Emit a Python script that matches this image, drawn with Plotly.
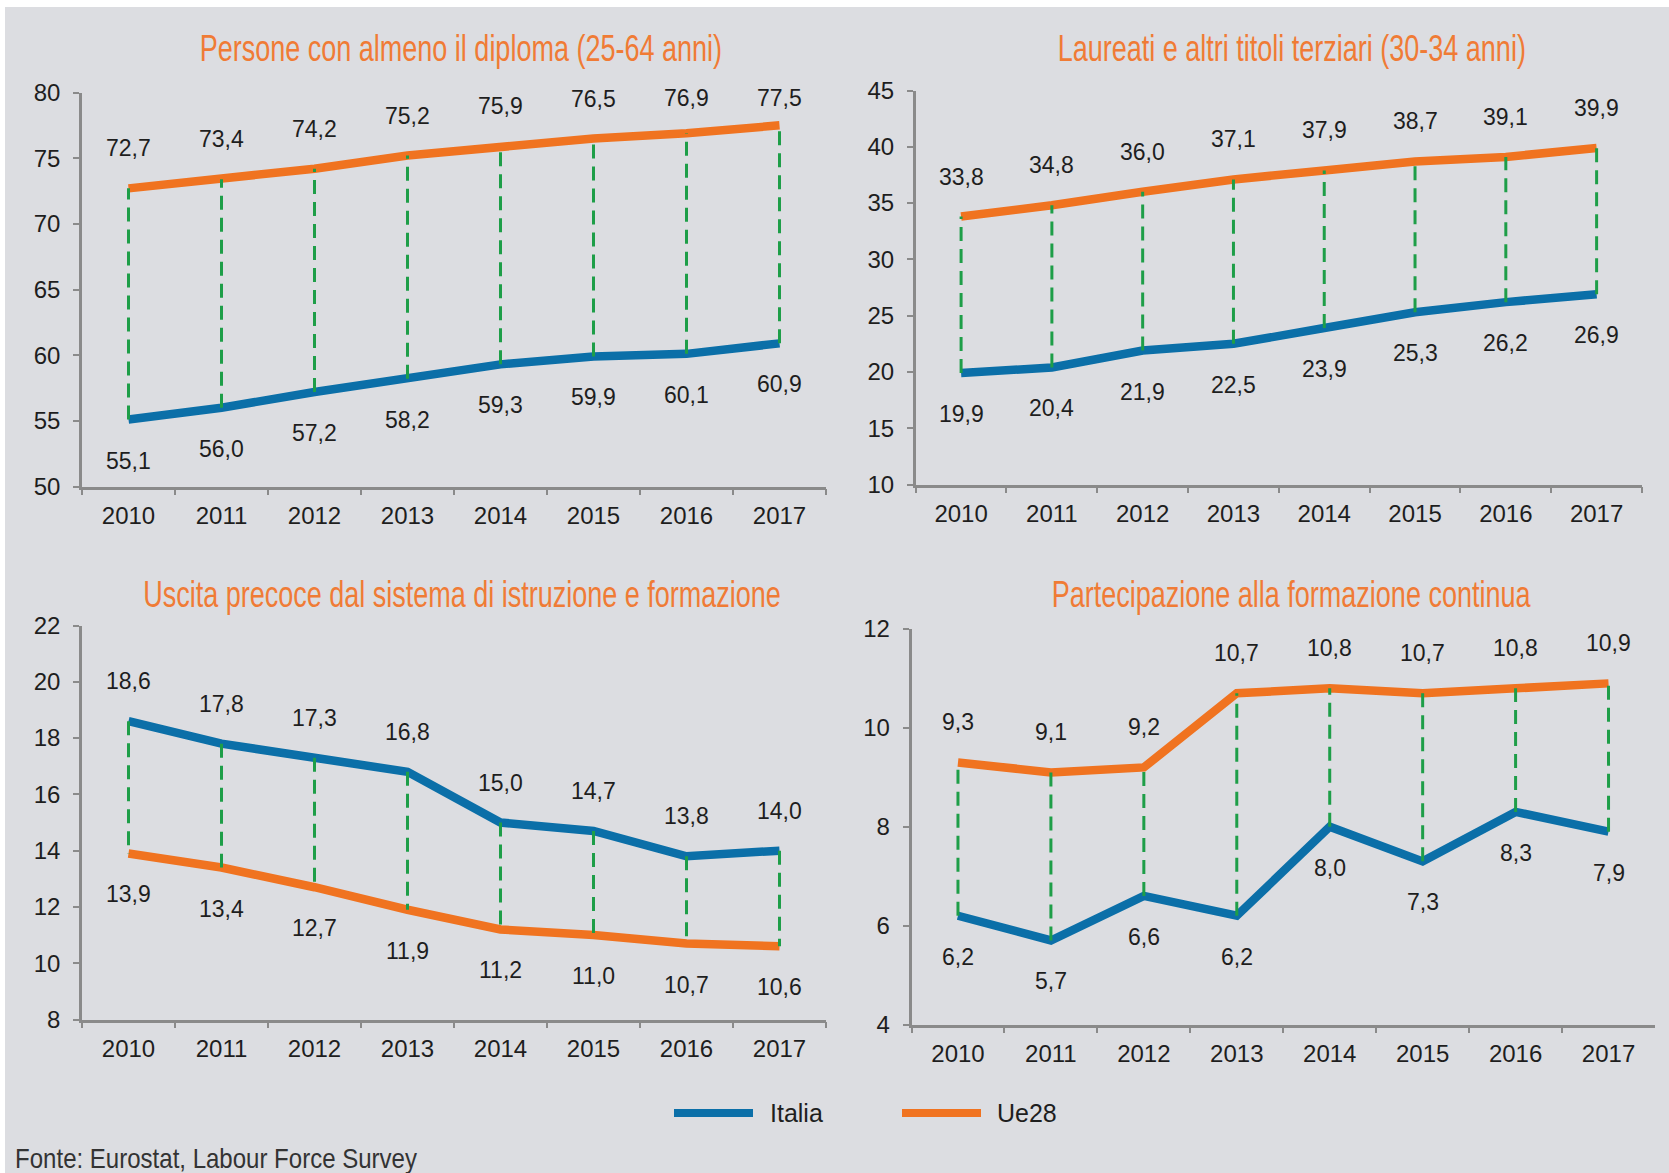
import json
import plotly.graph_objects as go

# ---------------- data ----------------
years = ["2010", "2011", "2012", "2013", "2014", "2015", "2016", "2017"]

p1_italia = [55.1, 56.0, 57.2, 58.2, 59.3, 59.9, 60.1, 60.9]
p1_ue28 = [72.7, 73.4, 74.2, 75.2, 75.9, 76.5, 76.9, 77.5]

p2_italia = [19.9, 20.4, 21.9, 22.5, 23.9, 25.3, 26.2, 26.9]
p2_ue28 = [33.8, 34.8, 36.0, 37.1, 37.9, 38.7, 39.1, 39.9]

p3_italia = [18.6, 17.8, 17.3, 16.8, 15.0, 14.7, 13.8, 14.0]
p3_ue28 = [13.9, 13.4, 12.7, 11.9, 11.2, 11.0, 10.7, 10.6]

p4_italia = [6.2, 5.7, 6.6, 6.2, 8.0, 7.3, 8.3, 7.9]
p4_ue28 = [9.3, 9.1, 9.2, 10.7, 10.8, 10.7, 10.8, 10.9]

titles = [
    "Persone con almeno il diploma (25-64 anni)",
    "Laureati e altri titoli terziari (30-34 anni)",
    "Uscita precoce dal sistema di istruzione e formazione",
    "Partecipazione alla formazione continua",
]
y_ranges = [(50, 80, 5), (10, 45, 5), (8, 22, 2), (4, 12, 2)]
series_names = ["Italia", "Ue28"]
source_text = "Fonte: Eurostat, Labour Force Survey"

# ---------------- style ----------------
W, H = 1669, 1173
BG = "#dcdde1"
BLUE = "#0b6fa8"
ORANGE = "#f07320"
GREEN = "#1e9e48"
TITLE_C = "#f07b35"
AXIS_C = "#8a8a8a"
TXT = "#1e1e1e"
FONT = "Liberation Sans, Arial, sans-serif"

# panel pixel boxes: (x0, x1, ytop, ybottom)
boxes = [
    (82, 826, 92.5, 486.5),
    (915.7, 1642, 90.5, 484.5),
    (82, 826, 625.5, 1019.5),
    (911.5, 1655, 629, 1024.5),
]
title_pos = [(461, 48), (1292, 48), (462, 594), (1291, 594)]

panels = [
    (p1_italia, p1_ue28),
    (p2_italia, p2_ue28),
    (p3_italia, p3_ue28),
    (p4_italia, p4_ue28),
]


def fx(px):
    return px / W


def fy(py):
    return 1 - py / H


fig = go.Figure()
annotations = []

for i, ((ita, ue), (ymin, ymax, dt), box) in enumerate(zip(panels, y_ranges, boxes)):
    n = i + 1
    xa = "x" if n == 1 else f"x{n}"
    ya = "y" if n == 1 else f"y{n}"
    x0, x1, yt, yb = box

    # green dashed connectors between the two series
    cx, cy = [], []
    for yr, a, b in zip(years, ita, ue):
        cx += [yr, yr, None]
        cy += [a, b, None]

    fig.add_trace(go.Scatter(x=years, y=ita, mode="lines", line=dict(color=BLUE, width=8.5),
                             xaxis=xa, yaxis=ya, showlegend=False, name="Italia"))
    fig.add_trace(go.Scatter(x=years, y=ue, mode="lines", line=dict(color=ORANGE, width=8.5),
                             xaxis=xa, yaxis=ya, showlegend=False, name="Ue28"))
    fig.add_trace(go.Scatter(x=cx, y=cy, mode="lines",
                             line=dict(color=GREEN, width=3, dash="14px,8px"),
                             xaxis=xa, yaxis=ya, showlegend=False, hoverinfo="skip"))

    # data labels: above the upper series, below the lower series
    ppu = (yb - yt) / (ymax - ymin)
    for k, (a, b) in enumerate(zip(ita, ue)):
        hi, lo = max(a, b), min(a, b)
        up = min(40, (ymax - hi) * ppu - 6)
        down = min(41, (lo - ymin) * ppu - 6)
        annotations.append(dict(x=k, y=hi, xref=xa, yref=ya, yshift=up, showarrow=False,
                                text=f"{hi:.1f}".replace(".", ","),
                                font=dict(family=FONT, size=23, color=TXT)))
        annotations.append(dict(x=k, y=lo, xref=xa, yref=ya, yshift=-down, showarrow=False,
                                text=f"{lo:.1f}".replace(".", ","),
                                font=dict(family=FONT, size=23, color=TXT)))

    axis_common = dict(showline=True, linecolor=AXIS_C, linewidth=2.5, ticks="outside",
                       tickcolor=AXIS_C, tickwidth=2, ticklen=6, showgrid=False,
                       zeroline=False, automargin=False,
                       tickfont=dict(family=FONT, size=24, color=TXT))
    fig.layout[f"xaxis{'' if n == 1 else n}"] = dict(
        axis_common, type="category", range=[-0.5, 7.5], tickson="boundaries",
        domain=[fx(x0), fx(x1)], anchor=ya, ticklabelstandoff=6, fixedrange=True)
    fig.layout[f"yaxis{'' if n == 1 else n}"] = dict(
        axis_common, range=[ymin, ymax], dtick=dt, tick0=ymin,
        domain=[fy(yb), fy(yt)], anchor=xa, ticklabelstandoff=8, fixedrange=True)

    tx, ty = title_pos[i]
    annotations.append(dict(x=fx(tx), y=fy(ty), xref="paper", yref="paper", showarrow=False,
                            xanchor="center", yanchor="middle", text=titles[i],
                            font=dict(family=FONT, size=37, color=TITLE_C)))

# background panel + manual legend
shapes = [
    dict(type="rect", xref="paper", yref="paper", x0=fx(5), x1=1, y0=0, y1=fy(7),
         fillcolor=BG, line=dict(width=0), layer="below"),
]
leg = [(674, 753, 768, BLUE, series_names[0]), (902, 981, 995, ORANGE, series_names[1])]
for lx0, lx1, tx, col, name in leg:
    shapes.append(dict(type="line", xref="paper", yref="paper", x0=fx(lx0), x1=fx(lx1),
                       y0=fy(1113), y1=fy(1113), line=dict(color=col, width=8)))
    annotations.append(dict(x=fx(tx), y=fy(1113), xref="paper", yref="paper", showarrow=False,
                            xanchor="left", yanchor="middle", text=name,
                            font=dict(family=FONT, size=25, color=TXT)))

annotations.append(dict(x=fx(13), y=fy(1159), xref="paper", yref="paper", showarrow=False,
                        xanchor="left", yanchor="middle", text=source_text,
                        font=dict(family=FONT, size=27, color="#333333")))

fig.update_layout(width=W, height=H, margin=dict(l=0, r=0, t=0, b=0, pad=0, autoexpand=False),
                  paper_bgcolor="white", plot_bgcolor=BG, showlegend=False,
                  shapes=shapes, annotations=annotations)

# condensed look for titles / source (horizontal squeeze, pivot: centre or left edge)
squeeze = {t: [0.73, 1.0, "c"] for t in titles}
squeeze[source_text] = [0.89, 1.0, "l"]

post = """
var de = document.documentElement, bd = document.body;
[de, bd].forEach(function(e){ e.style.margin='0'; e.style.padding='0'; e.style.overflow='hidden'; });
var gd = document.getElementById('{plot_id}');
gd.style.position = 'fixed';
gd.style.left = '0px';
gd.style.top = '0px';
var SQ = %s;
gd.querySelectorAll('text.annotation-text').forEach(function(t) {
  var s = SQ[t.textContent];
  if (!s) return;
  var b = t.getBBox();
  var px = s[2] === 'c' ? b.x + b.width / 2 : b.x;
  var py = b.y + b.height / 2;
  var prev = t.getAttribute('transform') || '';
  t.setAttribute('transform', prev + ' translate(' + px + ',' + py + ') scale(' + s[0] + ',' + s[1] + ') translate(' + (-px) + ',' + (-py) + ')');
});
""" % json.dumps(squeeze)

fig.write_html("out.html", config={"displayModeBar": False}, post_script=post)
